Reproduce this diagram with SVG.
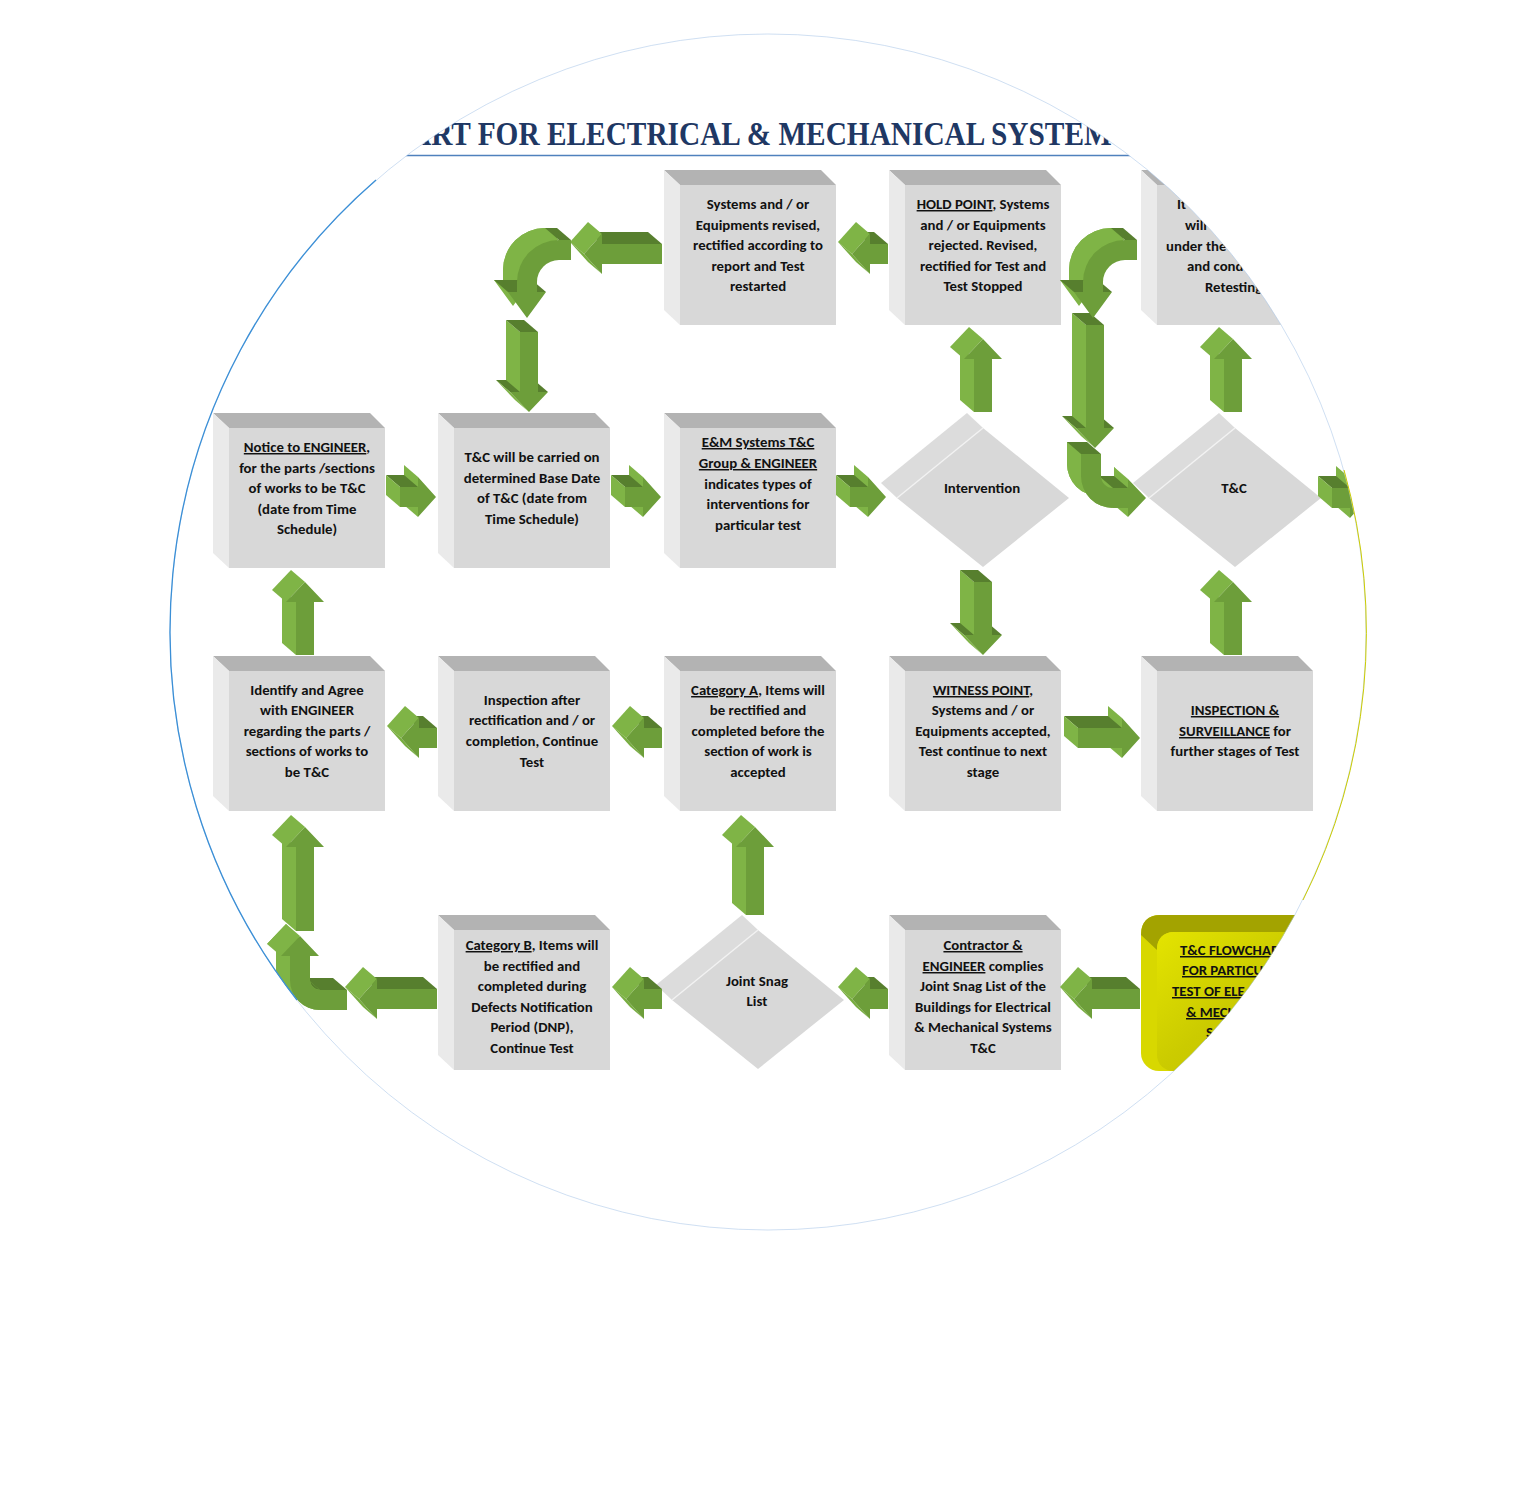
<svg xmlns="http://www.w3.org/2000/svg" xmlns:xlink="http://www.w3.org/1999/xlink" width="1514" height="1505" viewBox="0 0 1514 1505">
<style>
.fr{fill:#d8d8d8}.tp{fill:#b3b3b3}.lf{fill:#eaeaea}.ds{fill:#dcdcdc}
.lt{fill:#7fb446}.l2{fill:#78ad40}.md{fill:#6d9e3a}.dk{fill:#577f2e}
text{font-family:Carlito,Lato,"Open Sans",sans-serif;font-weight:700;font-size:14.8px;fill:#111;text-anchor:middle}
.st{text-anchor:start}
.u{text-decoration:underline}
.title{font-family:"Liberation Serif",serif;font-size:33px;fill:#1f3864;text-anchor:start}
</style>
<defs>
<clipPath id="cc"><circle cx="768" cy="632" r="598"/></clipPath>
<linearGradient id="yg" x1="0" y1="0" x2="1" y2="1"><stop offset="0" stop-color="#e4e400"/><stop offset="0.5" stop-color="#cbcb00"/><stop offset="1" stop-color="#bfbf00"/></linearGradient>
<g id="R52"><polygon class="lt" points="20,0 34,12 34,52 20,40"/><polygon class="dk" points="2,10 20,10 34,22 16,22"/><polygon class="lt" points="2,10 16,22 16,42 2,30"/><polygon class="md" points="16,22 34,22 34,12 52,32 34,52 34,42 16,42"/></g>
<g id="R78"><polygon class="lt" points="46,0 60,12 60,52 46,40"/><polygon class="dk" points="2,10 46,10 60,22 16,22"/><polygon class="lt" points="2,10 16,22 16,42 2,30"/><polygon class="md" points="16,22 60,22 60,12 78,32 60,52 60,42 16,42"/></g>
<g id="L50"><polygon class="dk" points="18,10 36,10 50,22 32,22"/><polygon class="lt" points="0,20 18,0 32,12 14,32"/><polygon class="l2" points="0,20 14,32 32,52 18,40"/><polygon class="md" points="14,32 32,12 32,22 50,22 50,42 32,42 32,52"/></g>
<g id="L80"><polygon class="dk" points="18,10 66,10 80,22 32,22"/><polygon class="lt" points="0,20 18,0 32,12 14,32"/><polygon class="l2" points="0,20 14,32 32,52 18,40"/><polygon class="md" points="14,32 32,12 32,22 80,22 80,42 32,42 32,52"/></g>
<g id="L92"><polygon class="dk" points="18,10 78,10 92,22 32,22"/><polygon class="lt" points="0,20 18,0 32,12 14,32"/><polygon class="l2" points="0,20 14,32 32,52 18,40"/><polygon class="md" points="14,32 32,12 32,22 92,22 92,42 32,42 32,52"/></g>
<g id="U85"><polygon class="lt" points="10,20 24,32 24,85 10,73"/><polygon class="lt" points="0,20 19,0 33,12 14,32"/><polygon class="md" points="33,12 52,32 42,32 42,85 24,85 24,32 14,32"/></g>
<g id="U100"><polygon class="lt" points="10,20 24,32 24,100 10,88"/><polygon class="lt" points="0,20 19,0 33,12 14,32"/><polygon class="md" points="33,12 52,32 42,32 42,100 24,100 24,32 14,32"/></g>
<g id="U116"><polygon class="lt" points="10,20 24,32 24,116 10,104"/><polygon class="lt" points="0,20 19,0 33,12 14,32"/><polygon class="md" points="33,12 52,32 42,32 42,116 24,116 24,32 14,32"/></g>
<g id="D85"><polygon class="dk" points="0,53 38,53 52,65 14,65"/><polygon class="lt" points="0,53 14,65 33,85 19,73"/><polygon class="lt" points="10,0 24,12 24,65 10,53"/><polygon class="dk" points="10,0 28,0 42,12 24,12"/><polygon class="md" points="24,12 42,12 42,65 52,65 33,85 14,65 24,65"/></g>
<g id="D92"><polygon class="dk" points="0,60 38,60 52,72 14,72"/><polygon class="lt" points="0,60 14,72 33,92 19,80"/><polygon class="lt" points="10,0 24,12 24,72 10,60"/><polygon class="dk" points="10,0 28,0 42,12 24,12"/><polygon class="md" points="24,12 42,12 42,72 52,72 33,92 14,72 24,72"/></g>
<g id="D135"><polygon class="dk" points="0,103 38,103 52,115 14,115"/><polygon class="lt" points="0,103 14,115 33,135 19,123"/><polygon class="lt" points="10,0 24,12 24,115 10,103"/><polygon class="dk" points="10,0 28,0 42,12 24,12"/><polygon class="md" points="24,12 42,12 42,115 52,115 33,135 14,115 24,115"/></g>
<g id="CD">
<path class="lt" d="M63,10 L51,10 A42,42 0 0 0 9,52 L9,62 L0,62 L19,88 L38,62 L29,62 L29,52 A22,22 0 0 1 51,30 L63,30 Z"/>
<path class="lt" d="M51,10 A42,42 0 0 0 9,52 L9,62 L23,74 L23,64 A42,42 0 0 1 65,22 Z"/>
<polygon class="dk" points="51,10 63,10 77,22 65,22"/>
<polygon class="dk" points="0,62 38,62 52,74 14,74"/>
<path class="md" d="M77,22 L65,22 A42,42 0 0 0 23,64 L23,74 L14,74 L33,100 L52,74 L43,74 L43,64 A22,22 0 0 1 65,42 L77,42 Z"/>
</g>
</defs>
<rect width="1514" height="1505" fill="#ffffff"/>
<g clip-path="url(#cc)">
<g id="title">
<text class="title" x="410" y="145" textLength="718" lengthAdjust="spacingAndGlyphs">ART FOR ELECTRICAL &amp; MECHANICAL SYSTEMS</text>
<line x1="395" y1="155.5" x2="1140" y2="155.5" stroke="#4f81bd" stroke-width="1.3"/>
</g>

<g id="n-revised">
<polygon class="tp" points="664,170 821,170 836,185 680,185"/><polygon class="lf" points="664,170 680,185 680,325 664,310"/><rect class="fr" x="680" y="185" width="156" height="140"/>
<text><tspan x="758" y="209">Systems and / or</tspan><tspan x="758" y="230">Equipments revised,</tspan><tspan x="758" y="250">rectified according to</tspan><tspan x="758" y="271">report and Test</tspan><tspan x="758" y="291">restarted</tspan></text>
</g>
<g id="n-hold">
<polygon class="tp" points="889,170 1046,170 1061,185 905,185"/><polygon class="lf" points="889,170 905,185 905,325 889,310"/><rect class="fr" x="905" y="185" width="156" height="140"/>
<text><tspan x="983" y="209"><tspan class="u">HOLD POINT</tspan>, Systems</tspan><tspan x="983" y="230">and / or Equipments</tspan><tspan x="983" y="250">rejected. Revised,</tspan><tspan x="983" y="271">rectified for Test and</tspan><tspan x="983" y="291">Test Stopped</tspan></text>
</g>
<g id="n-retest">
<polygon class="tp" points="1141,170 1298,170 1313,185 1157,185"/><polygon class="lf" points="1141,170 1157,185 1157,325 1141,310"/><rect class="fr" x="1157" y="185" width="156" height="140"/>
<text class="st"><tspan x="1177" y="209">It</tspan><tspan x="1185" y="230">will</tspan><tspan x="1166" y="251">under the</tspan><tspan x="1187" y="271">and cond</tspan><tspan x="1205" y="292">Retesting</tspan></text>
</g>

<g id="n-notice">
<polygon class="tp" points="213,413 370,413 385,428 229,428"/><polygon class="lf" points="213,413 229,428 229,568 213,553"/><rect class="fr" x="229" y="428" width="156" height="140"/>
<text><tspan x="307" y="452"><tspan class="u">Notice to ENGINEER</tspan>,</tspan><tspan x="307" y="473">for the parts /sections</tspan><tspan x="307" y="493">of works to be T&amp;C</tspan><tspan x="307" y="514">(date from Time</tspan><tspan x="307" y="534">Schedule)</tspan></text>
</g>
<g id="n-basedate">
<polygon class="tp" points="438,413 595,413 610,428 454,428"/><polygon class="lf" points="438,413 454,428 454,568 438,553"/><rect class="fr" x="454" y="428" width="156" height="140"/>
<text><tspan x="532" y="462">T&amp;C will be carried on</tspan><tspan x="532" y="483">determined Base Date</tspan><tspan x="532" y="503">of T&amp;C (date from</tspan><tspan x="532" y="524">Time Schedule)</tspan></text>
</g>
<g id="n-group">
<polygon class="tp" points="664,413 821,413 836,428 680,428"/><polygon class="lf" points="664,413 680,428 680,568 664,553"/><rect class="fr" x="680" y="428" width="156" height="140"/>
<text><tspan x="758" y="447" class="u">E&amp;M Systems T&amp;C</tspan><tspan x="758" y="468" class="u">Group &amp; ENGINEER</tspan><tspan x="758" y="489">indicates types of</tspan><tspan x="758" y="509">interventions for</tspan><tspan x="758" y="530">particular test</tspan></text>
</g>
<g id="n-intervention">
<polygon class="ds" points="881,483 967,413 983,428 897,498"/><polygon class="fr" points="983,428 1069,498 983,567 897,498"/><line x1="983" y1="428" x2="897" y2="498" stroke="#f2f2f2" stroke-width="1.5"/>
<text x="982" y="493">Intervention</text>
</g>
<g id="n-tc">
<polygon class="ds" points="1133,483 1219,413 1235,428 1149,498"/><polygon class="fr" points="1235,428 1321,498 1235,567 1149,498"/><line x1="1235" y1="428" x2="1149" y2="498" stroke="#f2f2f2" stroke-width="1.5"/>
<text x="1234" y="493">T&amp;C</text>
</g>

<g id="n-identify">
<polygon class="tp" points="213,656 370,656 385,671 229,671"/><polygon class="lf" points="213,656 229,671 229,811 213,796"/><rect class="fr" x="229" y="671" width="156" height="140"/>
<text><tspan x="307" y="695">Identify and Agree</tspan><tspan x="307" y="715">with ENGINEER</tspan><tspan x="307" y="736">regarding the parts /</tspan><tspan x="307" y="756">sections of works to</tspan><tspan x="307" y="777">be T&amp;C</tspan></text>
</g>
<g id="n-inspection">
<polygon class="tp" points="438,656 595,656 610,671 454,671"/><polygon class="lf" points="438,656 454,671 454,811 438,796"/><rect class="fr" x="454" y="671" width="156" height="140"/>
<text><tspan x="532" y="705">Inspection after</tspan><tspan x="532" y="725">rectification and / or</tspan><tspan x="532" y="746">completion, Continue</tspan><tspan x="532" y="767">Test</tspan></text>
</g>
<g id="n-cata">
<polygon class="tp" points="664,656 821,656 836,671 680,671"/><polygon class="lf" points="664,656 680,671 680,811 664,796"/><rect class="fr" x="680" y="671" width="156" height="140"/>
<text><tspan x="758" y="695"><tspan class="u">Category A</tspan>, Items will</tspan><tspan x="758" y="715">be rectified and</tspan><tspan x="758" y="736">completed before the</tspan><tspan x="758" y="756">section of work is</tspan><tspan x="758" y="777">accepted</tspan></text>
</g>
<g id="n-witness">
<polygon class="tp" points="889,656 1046,656 1061,671 905,671"/><polygon class="lf" points="889,656 905,671 905,811 889,796"/><rect class="fr" x="905" y="671" width="156" height="140"/>
<text><tspan x="983" y="695"><tspan class="u">WITNESS POINT</tspan>,</tspan><tspan x="983" y="715">Systems and / or</tspan><tspan x="983" y="736">Equipments accepted,</tspan><tspan x="983" y="756">Test continue to next</tspan><tspan x="983" y="777">stage</tspan></text>
</g>
<g id="n-surveillance">
<polygon class="tp" points="1141,656 1298,656 1313,671 1157,671"/><polygon class="lf" points="1141,656 1157,671 1157,811 1141,796"/><rect class="fr" x="1157" y="671" width="156" height="140"/>
<text><tspan x="1235" y="715" class="u">INSPECTION &amp;</tspan><tspan x="1235" y="736"><tspan class="u">SURVEILLANCE</tspan> for</tspan><tspan x="1235" y="756">further stages of Test</tspan></text>
</g>

<g id="n-catb">
<polygon class="tp" points="438,915 595,915 610,930 454,930"/><polygon class="lf" points="438,915 454,930 454,1070 438,1055"/><rect class="fr" x="454" y="930" width="156" height="140"/>
<text><tspan x="532" y="950"><tspan class="u">Category B</tspan>, Items will</tspan><tspan x="532" y="971">be rectified and</tspan><tspan x="532" y="991">completed during</tspan><tspan x="532" y="1012">Defects Notification</tspan><tspan x="532" y="1032">Period (DNP),</tspan><tspan x="532" y="1053">Continue Test</tspan></text>
</g>
<g id="n-snag">
<polygon class="ds" points="656,985 742,915 758,930 672,1000"/><polygon class="fr" points="758,930 844,1000 758,1069 672,1000"/><line x1="758" y1="930" x2="672" y2="1000" stroke="#f2f2f2" stroke-width="1.5"/>
<text><tspan x="757" y="986">Joint Snag</tspan><tspan x="757" y="1006">List</tspan></text>
</g>
<g id="n-contractor">
<polygon class="tp" points="889,915 1046,915 1061,930 905,930"/><polygon class="lf" points="889,915 905,930 905,1070 889,1055"/><rect class="fr" x="905" y="930" width="156" height="140"/>
<text><tspan x="983" y="950" class="u">Contractor &amp;</tspan><tspan x="983" y="971"><tspan class="u">ENGINEER</tspan> complies</tspan><tspan x="983" y="991">Joint Snag List of the</tspan><tspan x="983" y="1012">Buildings for Electrical</tspan><tspan x="983" y="1032">&amp; Mechanical Systems</tspan><tspan x="983" y="1053">T&amp;C</tspan></text>
</g>
<g id="n-flowchart">
<rect x="1141" y="915" width="172" height="156" rx="18" fill="#d8d800"/>
<path d="M1141,935 Q1141,915 1161,915 L1313,915 L1313,932 L1175,932 Q1157,932 1157,950 Z" fill="#a3a300"/>
<rect x="1157" y="932" width="156" height="139" rx="16" fill="url(#yg)"/>
<text class="st u"><tspan x="1180" y="955">T&amp;C FLOWCHAR</tspan><tspan x="1182" y="975">FOR PARTICU</tspan><tspan x="1172" y="996">TEST OF ELE</tspan><tspan x="1186" y="1017">&amp; MECH</tspan><tspan x="1206" y="1037">S</tspan></text>
</g>

<g id="connectors">
<use href="#R52" x="384" y="465"/>
<use href="#R52" x="609" y="465"/>
<use href="#R52" x="834" y="465"/>
<use href="#R52" x="1316" y="466"/>
<use href="#U85" x="950" y="327"/>
<use href="#L50" x="838" y="222"/>
<use href="#L92" x="570" y="222"/>
<use href="#D92" x="496" y="320"/>
<use href="#CD" x="494" y="218"/>
<use href="#D85" x="950" y="570"/>
<use href="#U85" x="1200" y="327"/>
<use href="#D135" x="1062" y="313"/>
<use href="#CD" x="1060" y="218"/>
<g id="curve-right">
<path class="lt" d="M1067,442 L1087,442 L1087,464 A12,12 0 0 0 1099,476 L1114,476 L1114,467 L1132,486 L1114,505 L1114,496 L1099,496 A32,32 0 0 1 1067,464 Z"/>
<path class="lt" d="M1067,442 L1067,464 A32,32 0 0 0 1099,496 L1113,508 A32,32 0 0 1 1081,476 L1081,454 Z"/>
<polygon class="lt" points="1114,467 1128,479 1128,517 1114,505"/>
<polygon class="dk" points="1067,442 1087,442 1101,454 1081,454"/>
<polygon class="dk" points="1099,476 1114,476 1128,488 1113,488"/>
<path class="md" d="M1081,454 L1101,454 L1101,476 A12,12 0 0 0 1113,488 L1128,488 L1128,479 L1146,498 L1128,517 L1128,508 L1113,508 A32,32 0 0 1 1081,476 Z"/>
</g>
<use href="#R78" x="1062" y="706"/>
<use href="#U85" x="1200" y="570"/>
<use href="#L50" x="612" y="706"/>
<use href="#L50" x="387" y="706"/>
<use href="#U85" x="272" y="570"/>
<use href="#U100" x="722" y="815"/>
<use href="#L80" x="1060" y="967"/>
<use href="#L50" x="838" y="967"/>
<use href="#L50" x="612" y="967"/>
<use href="#L92" x="345" y="967"/>
<use href="#U116" x="272" y="815"/>
<g id="curve-up">
<path class="lt" d="M333,978 L306,978 A10,10 0 0 1 296,968 L296,944 L305,944 L286,924 L267,944 L276,944 L276,968 A30,30 0 0 0 306,998 L333,998 Z"/>
<path class="lt" d="M276,944 L276,968 A30,30 0 0 0 306,998 L320,1010 A30,30 0 0 1 290,980 L290,956 Z"/>
<polygon class="lt" points="267,944 286,924 300,936 281,956"/>
<polygon class="dk" points="306,978 333,978 347,990 320,990"/>
<path class="dk" d="M306,978 A10,10 0 0 1 296,968 L310,980 A10,10 0 0 0 320,990 Z"/>
<path class="md" d="M347,990 L320,990 A10,10 0 0 1 310,980 L310,956 L319,956 L300,936 L281,956 L290,956 L290,980 A30,30 0 0 0 320,1010 L347,1010 Z"/>
</g>
</g>
</g>
<circle cx="768" cy="632" r="598" fill="none" stroke="#a9c6e8" stroke-width="0.8" opacity="0.7"/>
<path d="M376,180 A598,598 0 0 0 297,1000" fill="none" stroke="#3b8fd6" stroke-width="1.3"/>
<path d="M1344,470 A598,598 0 0 1 1303,900" fill="none" stroke="#cccc00" stroke-width="1"/>
</svg>
